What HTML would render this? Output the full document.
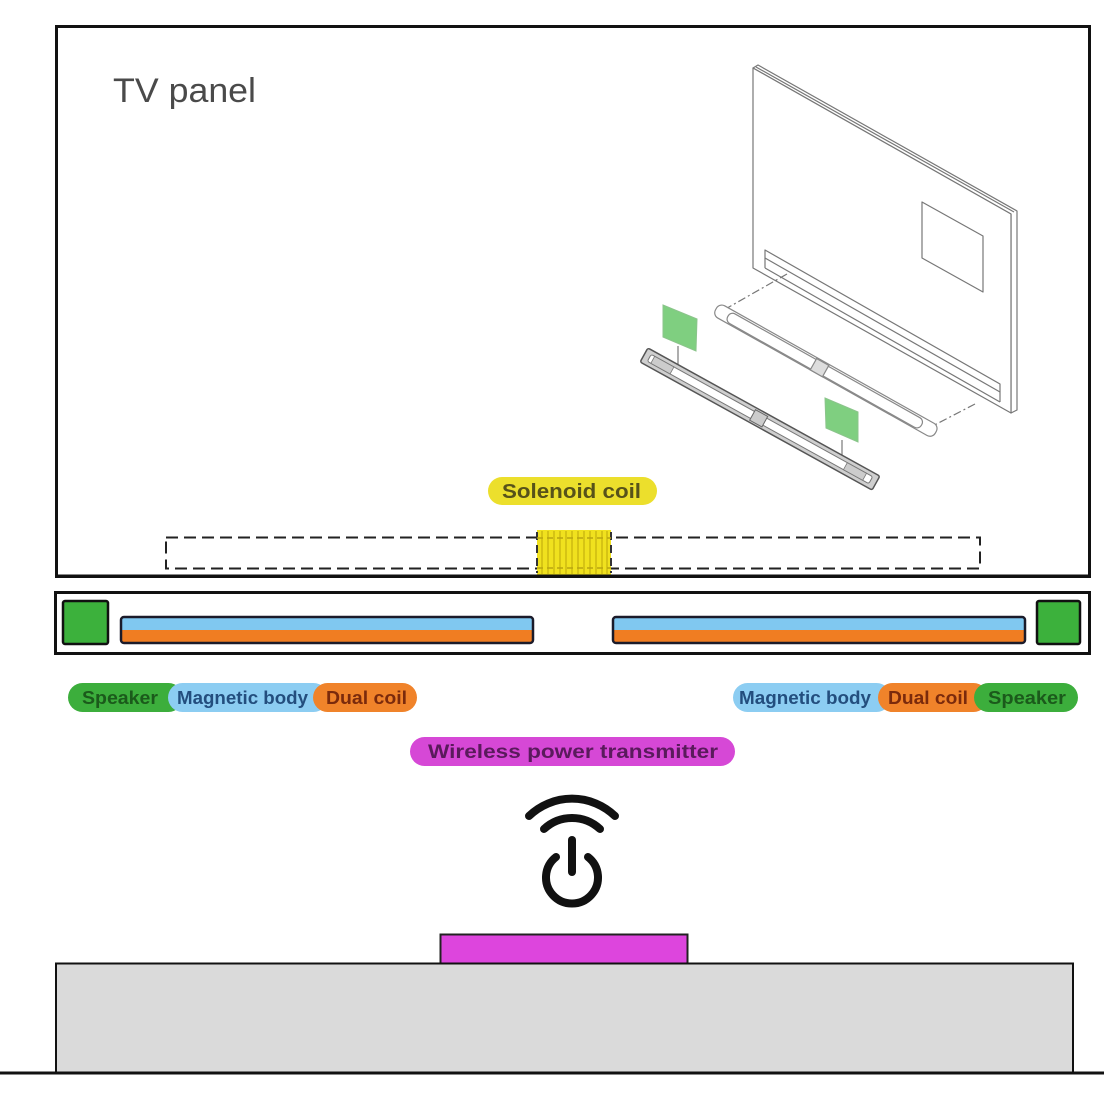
<!DOCTYPE html>
<html><head><meta charset="utf-8"><style>
html,body{margin:0;padding:0;background:#fff;}
svg{display:block;}
text{font-family:"Liberation Sans",sans-serif;font-weight:bold;}
</style></head><body>
<svg width="1104" height="1104" viewBox="0 0 1104 1104" xmlns="http://www.w3.org/2000/svg">
<rect width="1104" height="1104" fill="#fff"/>

<!-- TV panel frame -->
<rect x="56.5" y="26.5" width="1033" height="550" fill="#fff" stroke="#111" stroke-width="3"/>
<text x="113" y="102" font-size="34" fill="#4a4a4a" style="font-weight:normal" textLength="143" lengthAdjust="spacingAndGlyphs">TV panel</text>

<!-- isometric TV illustration -->
<g fill="none" stroke="#777" stroke-width="1.2" stroke-linejoin="round">
  <!-- thickness -->
  <polygon points="753,68 758,65 1017,211 1017,410 1011,413 1011,214" fill="#fff"/>
  <!-- front face -->
  <polygon points="753,68 1011,214 1011,413 753,268" fill="#fff"/>
  <line x1="756" y1="67" x2="1014" y2="212"/>
  <!-- window -->
  <polygon points="922,202 983,236 983,292 922,258"/>
  <!-- slot -->
  <polyline points="765,268 765,250 1000,384 1000,402"/>
  <line x1="765" y1="258" x2="1000" y2="392"/>
  <line x1="765" y1="268" x2="1000" y2="402"/>
  <!-- dash-dot guides -->
  <line x1="787" y1="274" x2="722" y2="311" stroke-dasharray="8,3,2,3"/>
  <line x1="975" y1="404" x2="925" y2="430" stroke-dasharray="8,3,2,3"/>
  <line x1="678" y1="346" x2="678" y2="364"/>
  <line x1="842" y1="440" x2="842" y2="456"/>
</g>
<!-- upper white soundbar -->
<g transform="translate(716,309) rotate(29.3)" fill="#fff" stroke="#888" stroke-width="1.2">
  <rect x="0" y="-7" width="252" height="14" rx="6"/>
  <rect x="14" y="-5" width="222" height="11" rx="5"/>
  <rect x="112" y="-6" width="14" height="13" fill="#ddd" stroke="#888"/>
</g>
<!-- lower gray soundbar -->
<g transform="translate(644,355) rotate(28.9)">
  <rect x="0" y="-8" width="265" height="16" rx="2" fill="#cfcfcf" stroke="#555" stroke-width="1.5"/>
  <rect x="6" y="-4" width="253" height="8" rx="2" fill="#fff" stroke="#777" stroke-width="1"/>
  <rect x="10" y="-4" width="22" height="8" fill="#ccc" stroke="#777" stroke-width="0.8"/>
  <rect x="230" y="-4" width="22" height="8" fill="#ccc" stroke="#777" stroke-width="0.8"/>
  <rect x="124" y="-6" width="14" height="12" fill="#ccc" stroke="#666" stroke-width="1"/>
</g>
<!-- green speakers -->
<polygon points="663,305 697,319 696,351 663,337" fill="#7fcf80" stroke="#8bc48b" stroke-width="1"/>
<polygon points="825,398 858,412 858,442 826,428" fill="#7fcf80" stroke="#8bc48b" stroke-width="1"/>

<!-- Solenoid coil label -->
<rect x="488" y="477" width="169" height="28" rx="14" fill="#ecdf2c"/>
<text x="502" y="498" font-size="20" fill="#57521a" textLength="139" lengthAdjust="spacingAndGlyphs">Solenoid coil</text>

<!-- dashed tube -->
<rect x="166" y="537.5" width="814" height="31" fill="none" stroke="#222" stroke-width="2" stroke-dasharray="12,6"/>
<!-- coil -->
<rect x="537" y="530" width="74" height="45" fill="#f0e11e"/>
<g stroke="#c9b40e" stroke-width="1.3">
  <line x1="542" y1="531" x2="542" y2="574"/><line x1="548" y1="531" x2="548" y2="574"/>
  <line x1="554" y1="531" x2="554" y2="574"/><line x1="560" y1="531" x2="560" y2="574"/>
  <line x1="566" y1="531" x2="566" y2="574"/><line x1="572" y1="531" x2="572" y2="574"/>
  <line x1="578" y1="531" x2="578" y2="574"/><line x1="584" y1="531" x2="584" y2="574"/>
  <line x1="590" y1="531" x2="590" y2="574"/><line x1="596" y1="531" x2="596" y2="574"/>
  <line x1="602" y1="531" x2="602" y2="574"/><line x1="607" y1="531" x2="607" y2="574"/>
</g>
<line x1="537" y1="532" x2="537" y2="573" stroke="#333" stroke-width="2" stroke-dasharray="8,5"/>
<line x1="611" y1="532" x2="611" y2="573" stroke="#333" stroke-width="2" stroke-dasharray="8,5"/>
<line x1="537" y1="538" x2="611" y2="538" stroke="#b9a510" stroke-width="1.5" stroke-dasharray="6,4"/>
<line x1="537" y1="568" x2="611" y2="568" stroke="#b9a510" stroke-width="1.5" stroke-dasharray="6,4"/>
<line x1="55" y1="576" x2="1091" y2="576" stroke="#111" stroke-width="3"/>

<!-- speaker frame -->
<rect x="55.5" y="592.5" width="1034" height="61" fill="#fff" stroke="#111" stroke-width="3"/>
<rect x="63" y="601" width="45" height="43" rx="2" fill="#3cb13c" stroke="#111" stroke-width="2.5"/>
<rect x="1037" y="601" width="43" height="43" rx="2" fill="#3cb13c" stroke="#111" stroke-width="2.5"/>
<!-- left bar -->
<rect x="121" y="617" width="412" height="13" fill="#80c8f0"/>
<rect x="121" y="630" width="412" height="13" fill="#f07d22"/>
<rect x="121" y="617" width="412" height="26" rx="3" fill="none" stroke="#1b1b2a" stroke-width="2.5"/>
<!-- right bar -->
<rect x="613" y="617" width="412" height="13" fill="#80c8f0"/>
<rect x="613" y="630" width="412" height="13" fill="#f07d22"/>
<rect x="613" y="617" width="412" height="26" rx="3" fill="none" stroke="#1b1b2a" stroke-width="2.5"/>

<!-- left labels -->
<rect x="68" y="683" width="115" height="29" rx="14.5" fill="#3cae3c"/>
<rect x="168" y="683" width="160" height="29" rx="14.5" fill="#8ccdf2"/>
<rect x="313" y="683" width="104" height="29" rx="14.5" fill="#f0832a"/>
<text x="82" y="704" font-size="18" fill="#1b5a1b" textLength="76" lengthAdjust="spacingAndGlyphs">Speaker</text>
<text x="177" y="704" font-size="18" fill="#234e7e" textLength="131" lengthAdjust="spacingAndGlyphs">Magnetic body</text>
<text x="326" y="704" font-size="18" fill="#7a2a0c" textLength="81" lengthAdjust="spacingAndGlyphs">Dual coil</text>

<!-- right labels -->
<rect x="733" y="683" width="158" height="29" rx="14.5" fill="#8ccdf2"/>
<rect x="878" y="683" width="110" height="29" rx="14.5" fill="#f0832a"/>
<rect x="974" y="683" width="104" height="29" rx="14.5" fill="#3cae3c"/>
<text x="739" y="704" font-size="18" fill="#234e7e" textLength="132" lengthAdjust="spacingAndGlyphs">Magnetic body</text>
<text x="888" y="704" font-size="18" fill="#7a2a0c" textLength="80" lengthAdjust="spacingAndGlyphs">Dual coil</text>
<text x="988" y="704" font-size="18" fill="#1b5a1b" textLength="78" lengthAdjust="spacingAndGlyphs">Speaker</text>

<!-- wireless power transmitter label -->
<rect x="410" y="737" width="325" height="29" rx="14.5" fill="#d648d6"/>
<text x="428" y="758" font-size="19" fill="#5a1a5c" textLength="290" lengthAdjust="spacingAndGlyphs">Wireless power transmitter</text>

<!-- wireless power icon -->
<g fill="none" stroke="#111" stroke-width="8" stroke-linecap="round">
  <path d="M 529 816 A 62 62 0 0 1 615 816"/>
  <path d="M 544 829 A 41 41 0 0 1 600 829"/>
  <line x1="572" y1="840" x2="572" y2="872"/>
  <path d="M 556 857 A 26 26 0 1 0 588 857"/>
</g>

<!-- base -->
<rect x="440.5" y="934.5" width="247" height="29" fill="#dd45dd" stroke="#222" stroke-width="2"/>
<rect x="56" y="963.5" width="1017" height="110" fill="#dadada" stroke="#111" stroke-width="2"/>
<line x1="0" y1="1073" x2="1104" y2="1073" stroke="#111" stroke-width="3"/>
</svg>
</body></html>
